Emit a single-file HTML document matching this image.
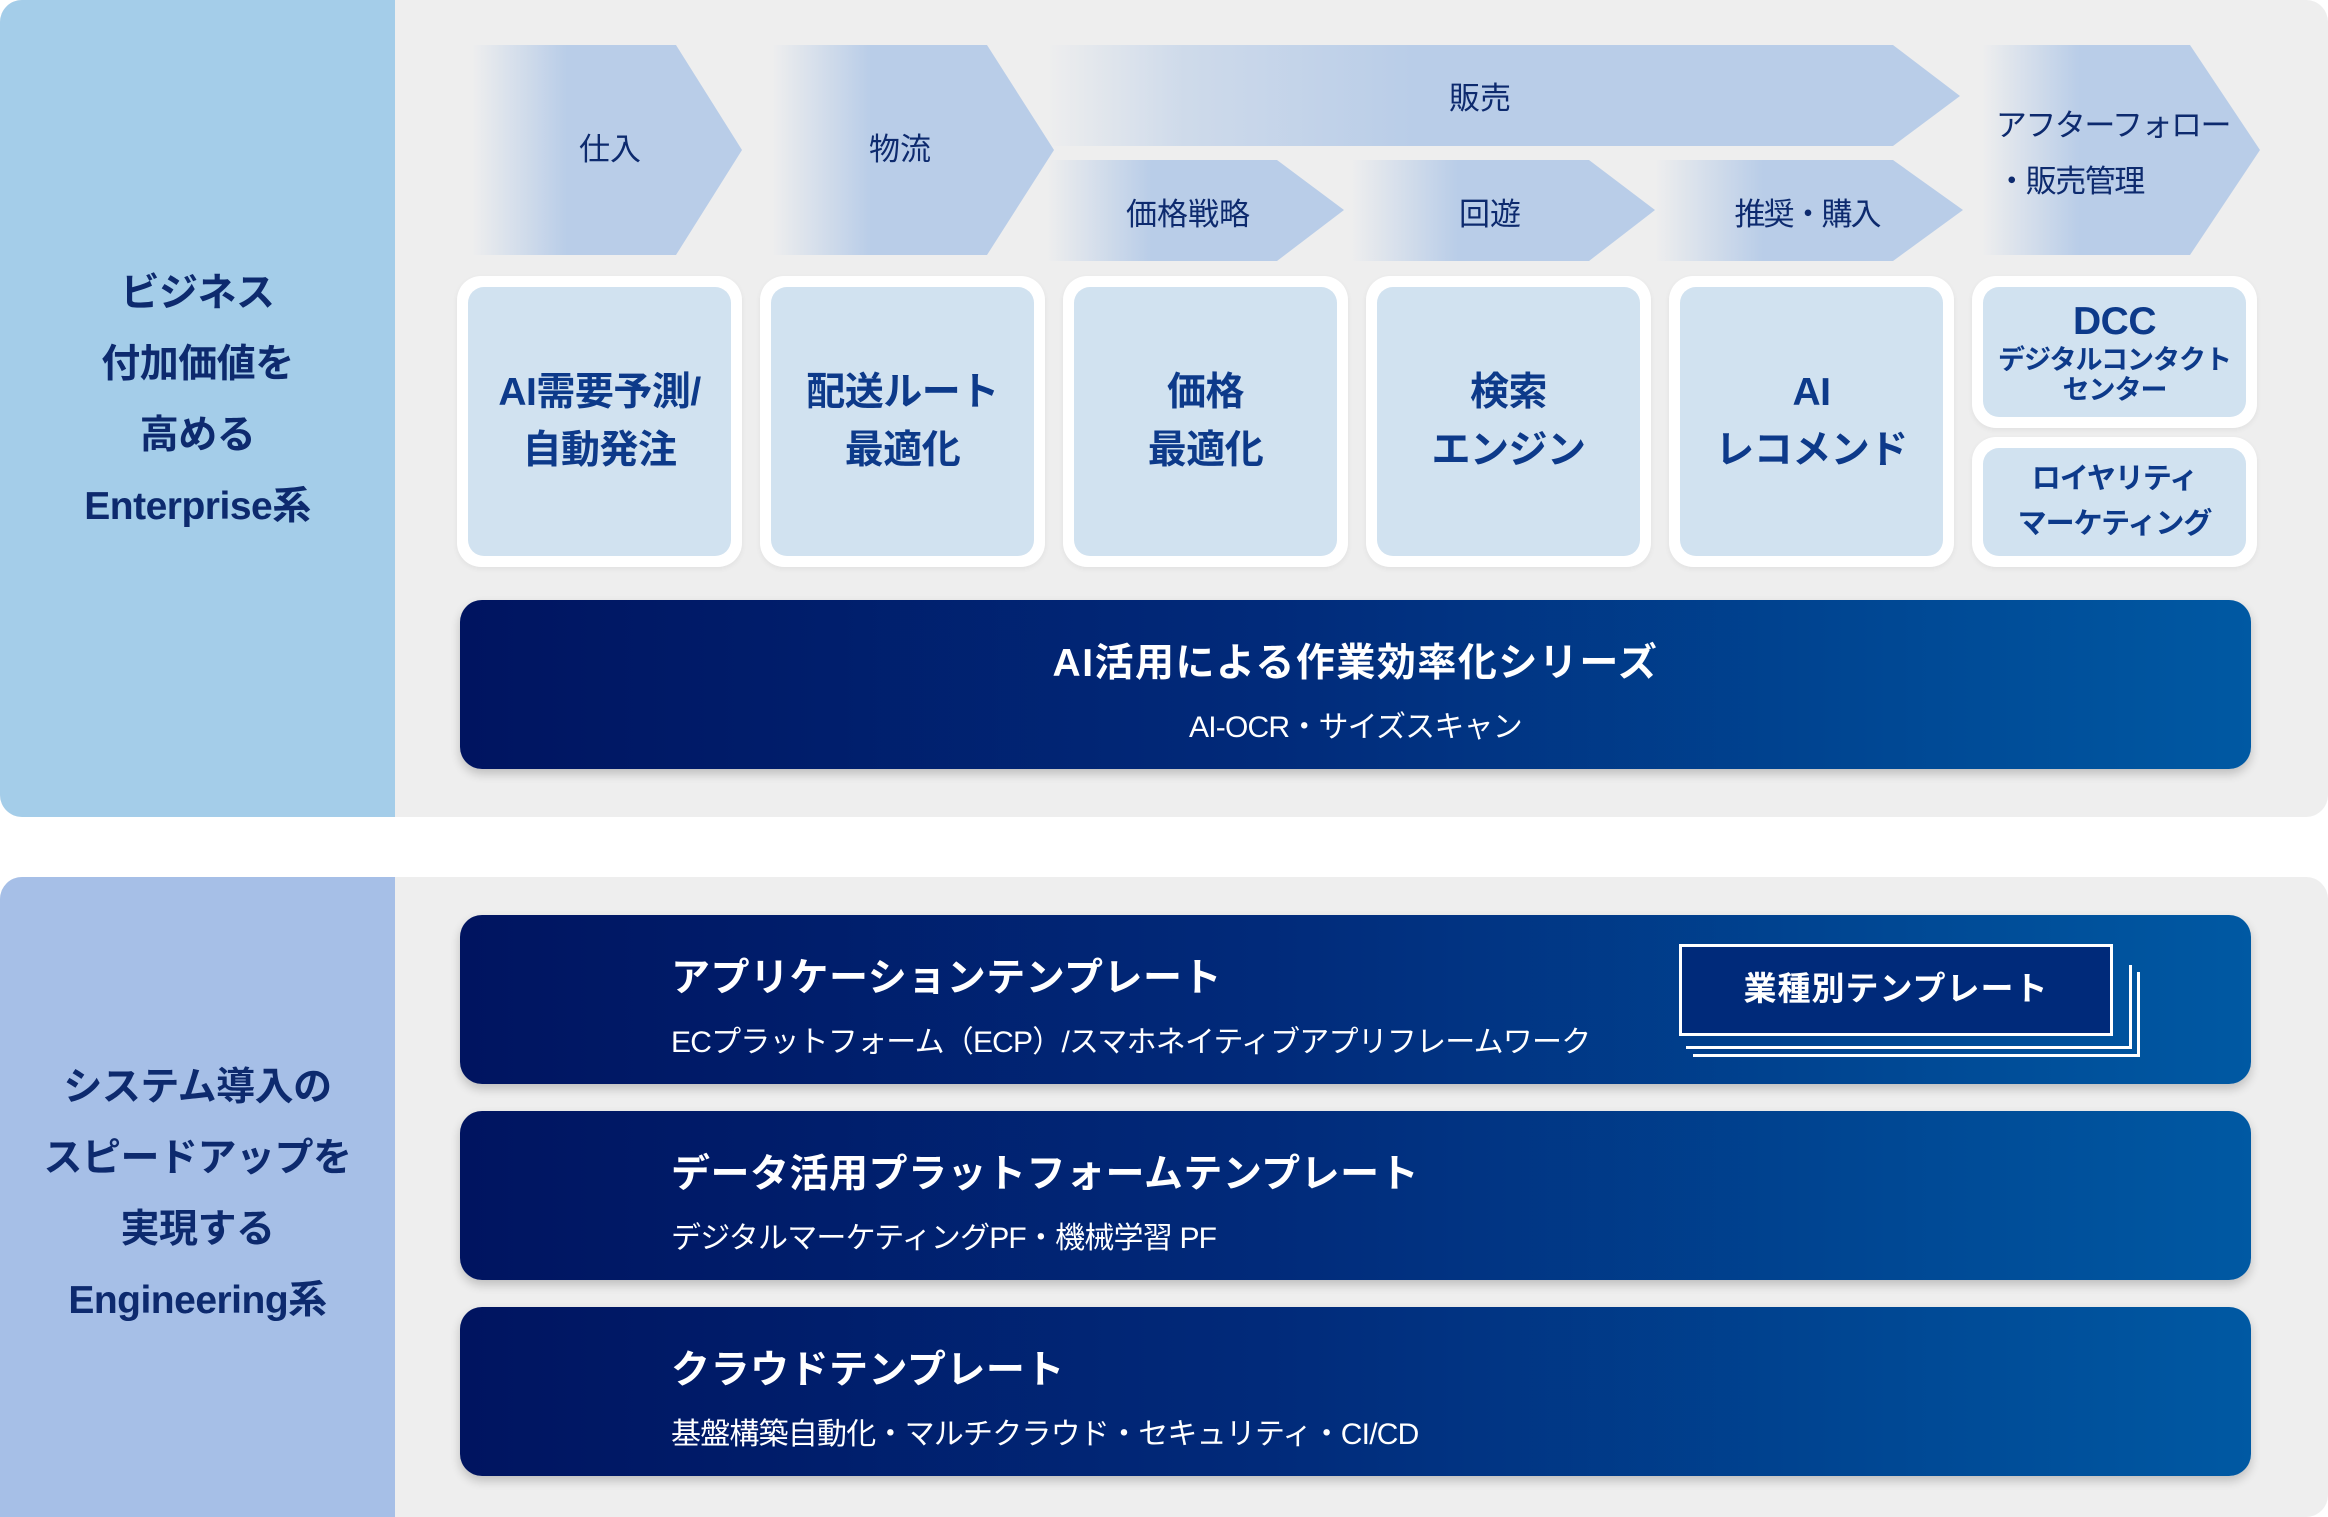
<!DOCTYPE html>
<html><head><meta charset="utf-8"><style>
body{margin:0;width:2328px;height:1505px;background:#fff;position:relative;overflow:hidden;font-family:"Liberation Sans","Noto Sans CJK JP",sans-serif;}
.a{position:absolute;box-sizing:border-box}
.panel{background:#eeeeee;border-radius:22px;overflow:hidden}
.lt{color:#0d2a6e;font-weight:bold;font-size:39px;text-align:center;line-height:71px;width:395px;left:0;letter-spacing:-0.5px}
.box{background:#fff;border-radius:24px;padding:11px;box-shadow:0 2px 6px rgba(0,0,0,0.06)}
.box>div{background:#d1e2f0;border-radius:16px;width:100%;height:100%;display:flex;align-items:center;justify-content:center;text-align:center;color:#0d3a8a;font-weight:bold;font-size:39px;line-height:58px;letter-spacing:-0.5px}
.bar{border-radius:22px;background:linear-gradient(90deg,#001460 0%,#012a7a 45%,#0059a3 100%);box-shadow:0 5px 10px rgba(0,0,0,0.2);color:#fff}
.t{position:absolute;left:360px;font-weight:bold;font-size:39px;letter-spacing:0.5px}
.s{position:absolute;left:360px;font-size:30px;letter-spacing:-0.8px}
</style></head><body>
<div class="a panel" style="left:0;top:0;width:2328px;height:817px"></div>
<div class="a" style="left:0;top:0;width:395px;height:817px;background:#a4cde9;border-radius:22px 0 0 22px"></div>
<div class="a panel" style="left:0;top:877px;width:2328px;height:640px"></div>
<div class="a" style="left:0;top:877px;width:395px;height:640px;background:#a6bfe7;border-radius:22px 0 0 0"></div>

<div class="a lt" style="top:258px">ビジネス<br>付加価値を<br>高める<br>Enterprise系</div>
<div class="a lt" style="top:1052px">システム導入の<br>スピードアップを<br>実現する<br>Engineering系</div>

<svg class="a" style="left:0;top:0" width="2328" height="300">
<defs>
<linearGradient id="g" x1="0" x2="1" y1="0" y2="0"><stop offset="0" stop-color="#b9cde8" stop-opacity="0"/><stop offset="0.35" stop-color="#b9cde8"/><stop offset="1" stop-color="#b9cde8"/></linearGradient>
<linearGradient id="g2" x1="0" x2="1" y1="0" y2="0"><stop offset="0" stop-color="#b9cde8" stop-opacity="0"/><stop offset="0.15" stop-color="#b9cde8" stop-opacity="0.6"/><stop offset="0.4" stop-color="#b9cde8"/><stop offset="1" stop-color="#b9cde8"/></linearGradient>
</defs>
<polygon fill="url(#g)" points="472,45 676,45 742,150 676,255 472,255"/>
<polygon fill="url(#g)" points="772,45 987,45 1054,150 987,255 772,255"/>
<polygon fill="url(#g2)" points="1047,45 1893,45 1960,96 1893,146 1047,146"/>
<polygon fill="url(#g)" points="1047,160 1277,160 1344,210 1277,261 1047,261"/>
<polygon fill="url(#g)" points="1351,160 1589,160 1655,210 1589,261 1351,261"/>
<polygon fill="url(#g)" points="1655,160 1893,160 1963,210 1893,261 1655,261"/>
<polygon fill="url(#g)" points="1982,45 2190,45 2260,150 2190,255 1982,255"/>
<g fill="#0d2a6e" font-size="31" text-anchor="middle" font-family="Liberation Sans, Noto Sans CJK JP, sans-serif">
<text x="610" y="160">仕入</text>
<text x="900" y="160">物流</text>
<text x="1480" y="109">販売</text>
<text x="1188" y="225">価格戦略</text>
<text x="1490" y="225">回遊</text>
<text x="1807" y="225" letter-spacing="-2">推奨・購入</text>
<text x="2113" y="136" letter-spacing="-1.5">アフターフォロー</text>
<text x="2070" y="192" letter-spacing="-1.5">・販売管理</text>
</g>
</svg>

<div class="a box" style="left:457px;top:276px;width:285px;height:291px"><div>AI需要予測/<br>自動発注</div></div>
<div class="a box" style="left:760px;top:276px;width:285px;height:291px"><div>配送ルート<br>最適化</div></div>
<div class="a box" style="left:1063px;top:276px;width:285px;height:291px"><div>価格<br>最適化</div></div>
<div class="a box" style="left:1366px;top:276px;width:285px;height:291px"><div>検索<br>エンジン</div></div>
<div class="a box" style="left:1669px;top:276px;width:285px;height:291px"><div>AI<br>レコメンド</div></div>
<div class="a box" style="left:1972px;top:276px;width:285px;height:152px"><div style="flex-direction:column;line-height:30px"><span style="font-size:39px;line-height:46px">DCC</span><span style="font-size:27px;letter-spacing:-1px">デジタルコンタクト<br>センター</span></div></div>
<div class="a box" style="left:1972px;top:437px;width:285px;height:130px"><div style="font-size:29px;line-height:45px;letter-spacing:-1px">ロイヤリティ<br>マーケティング</div></div>

<div class="a bar" style="left:460px;top:600px;width:1791px;height:169px">
<div style="position:absolute;width:100%;text-align:center;top:32px;font-weight:bold;font-size:39px;letter-spacing:1.5px">AI活用による作業効率化シリーズ</div>
<div style="position:absolute;width:100%;text-align:center;top:102px;font-size:30px;letter-spacing:-0.8px">AI-OCR・サイズスキャン</div>
</div>

<div class="a bar" style="left:460px;top:915px;width:1791px;height:169px">
<div class="t" style="top:32px;left:211px">アプリケーションテンプレート</div>
<div class="s" style="top:102px;left:211px">ECプラットフォーム（ECP）/スマホネイティブアプリフレームワーク</div>
<div class="a" style="left:1233px;top:57px;width:447px;height:85px;border-right:3px solid #fff;border-bottom:3px solid #fff"></div>
<div class="a" style="left:1226px;top:50px;width:446px;height:84px;border-right:3px solid #fff;border-bottom:3px solid #fff"></div>
<div class="a" style="left:1219px;top:29px;width:434px;height:92px;border:3px solid #fff;font-weight:bold;font-size:33px;text-align:center;line-height:84px;letter-spacing:1px;background:#002a7a">業種別テンプレート</div>
</div>
<div class="a bar" style="left:460px;top:1111px;width:1791px;height:169px">
<div class="t" style="top:32px;left:211px">データ活用プラットフォームテンプレート</div>
<div class="s" style="top:102px;left:211px">デジタルマーケティングPF・機械学習 PF</div>
</div>
<div class="a bar" style="left:460px;top:1307px;width:1791px;height:169px">
<div class="t" style="top:32px;left:211px">クラウドテンプレート</div>
<div class="s" style="top:102px;left:211px">基盤構築自動化・マルチクラウド・セキュリティ・CI/CD</div>
</div>
</body></html>
